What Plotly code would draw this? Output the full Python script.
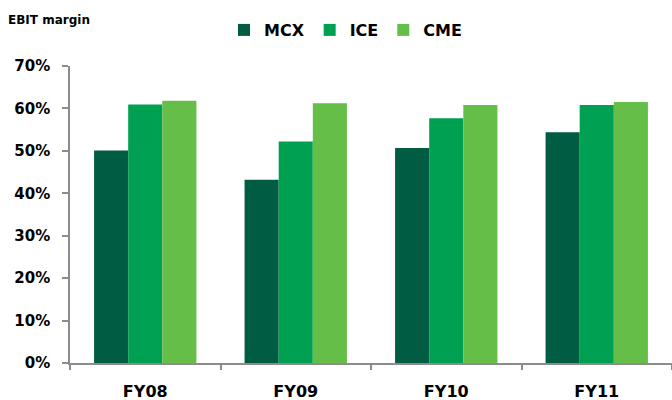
import plotly.graph_objects as go

categories = ["FY08", "FY09", "FY10", "FY11"]
series_names = ["MCX", "ICE", "CME"]
mcx = [0.501, 0.432, 0.507, 0.544]
ice = [0.609, 0.522, 0.577, 0.608]
cme = [0.618, 0.612, 0.608, 0.615]
y_ticks = [0, 0.1, 0.2, 0.3, 0.4, 0.5, 0.6, 0.7]

colors = ["#005C42", "#00A052", "#64BE48"]
FONT = "DejaVu Sans"

fig = go.Figure()
for name, vals, col in zip(series_names, [mcx, ice, cme], colors):
    fig.add_trace(go.Bar(x=categories, y=vals, name=name, marker=dict(color=col, line=dict(width=0))))

fig.update_layout(
    width=672, height=400,
    margin=dict(l=70, r=0, t=66, b=37),
    paper_bgcolor="white", plot_bgcolor="white",
    barmode="group", bargap=0.32, bargroupgap=0,
    font=dict(family=FONT, color="#000000"),
    title=dict(text="EBIT margin", x=8/672, xref="container", xanchor="left",
               y=1-19.5/400, yref="container", yanchor="middle",
               font=dict(family=FONT, size=12, weight="bold", color="#000000")),
    legend=dict(orientation="h", xref="container", yref="container",
                x=224/672, xanchor="left", y=1-30/400, yanchor="middle",
                font=dict(family=FONT, size=16, weight="bold", color="#000000"),
                itemwidth=30, tracegroupgap=0, bgcolor="rgba(0,0,0,0)"),
    showlegend=True,
)
fig.update_yaxes(range=[0, 0.7], tickvals=y_ticks, tickformat=".0%",
                 showgrid=False, zeroline=False,
                 showline=True, linecolor="#8C8C8C", linewidth=1.5,
                 ticks="outside", ticklen=6, tickcolor="#8C8C8C", tickwidth=1.5,
                 ticklabelstandoff=9,
                 tickfont=dict(family=FONT, size=15, weight="bold", color="#000000"))
fig.update_xaxes(showgrid=False, showline=True, linecolor="#8C8C8C", linewidth=1.5,
                 ticks="outside", tickson="boundaries", ticklen=5, tickcolor="#8C8C8C", tickwidth=1.5,
                 ticklabelstandoff=13,
                 tickfont=dict(family=FONT, size=16, weight="bold", color="#000000"))

fig.write_html("out.html")
